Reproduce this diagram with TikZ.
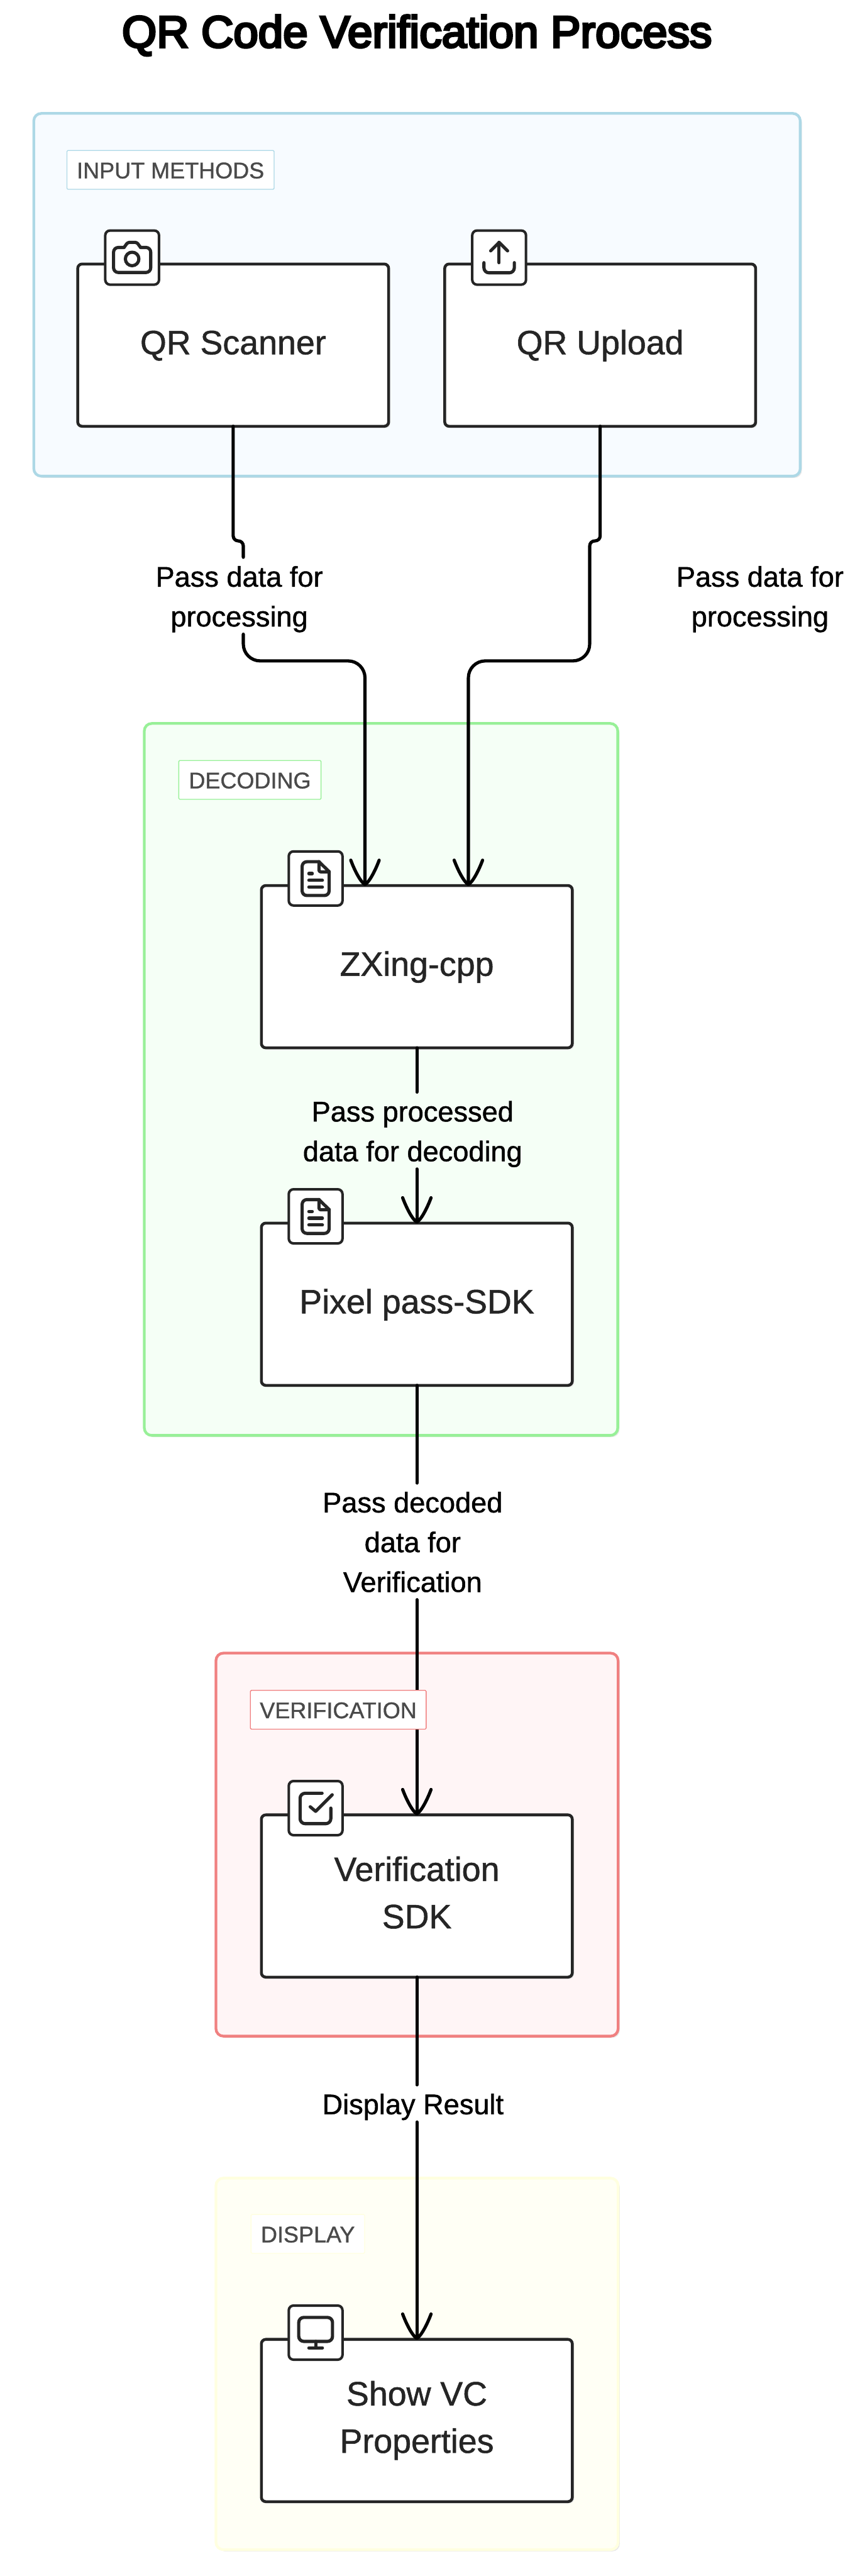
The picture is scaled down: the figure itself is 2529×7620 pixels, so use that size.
\documentclass[tikz,border=0pt]{standalone}
\usepackage{fontspec}
\setmainfont[FakeBold=1]{Liberation Sans}
\newfontfamily\titlefamily[FakeBold=5]{Liberation Sans}
\usetikzlibrary{shadows,arrows.meta}
\definecolor{inkc}{HTML}{252525}
\definecolor{grouptext}{HTML}{4A4A4A}
\definecolor{bluestroke}{HTML}{ADD8E6}
\definecolor{bluefill}{HTML}{F7FBFF}
\definecolor{greenstroke}{HTML}{98F098}
\definecolor{greenfill}{HTML}{F5FFF6}
\definecolor{redstroke}{HTML}{F08080}
\definecolor{redfill}{HTML}{FFF5F6}
\definecolor{yellowstroke}{HTML}{FFFFE0}
\definecolor{yellowfill}{HTML}{FFFFF5}
\definecolor{shadowc}{HTML}{E8E8E8}
\pgfdeclarearrow{
  name=SketchTip,
  setup code={
    \pgfarrowssettipend{3pt}
    \pgfarrowssetlineend{-1pt}
    \pgfarrowssetbackend{-72pt}
    \pgfarrowssetvisualbackend{-2pt}
    \pgfarrowshullpoint{3pt}{0pt}
    \pgfarrowshullpoint{-72pt}{42pt}
    \pgfarrowshullpoint{-72pt}{-42pt}
  },
  drawing code={
    \pgfsetroundcap
    \pgfsetroundjoin
    \pgfsetdash{}{0pt}
    \pgfpathmoveto{\pgfpoint{-72pt}{42pt}}
    \pgfpathcurveto{\pgfpoint{-45pt}{32pt}}{\pgfpoint{-8pt}{14pt}}{\pgfpoint{0pt}{0pt}}
    \pgfpathcurveto{\pgfpoint{-8pt}{-14pt}}{\pgfpoint{-45pt}{-32pt}}{\pgfpoint{-72pt}{-42pt}}
    \pgfusepathqstroke
  }
}
\tikzset{
  softshadow/.style={general shadow={fill=shadowc,shadow xshift=5pt,shadow yshift=-5pt}},
  groupbox/.style={rectangle,rounded corners=22pt,line width=8pt,minimum width=#1,outer sep=0pt,inner sep=0pt,softshadow},
  grouplabel/.style={rectangle,rounded corners=3pt,line width=2.5pt,fill=white,inner sep=0pt,outer sep=0pt,
    font=\fontsize{67}{80}\selectfont,text=grouptext,minimum height=115pt,text height=60pt,text depth=10pt},
  procbox/.style={rectangle,rounded corners=13pt,draw=inkc,line width=8.5pt,fill=white,inner sep=0pt,outer sep=0pt,
    minimum width=920pt,minimum height=480pt,font=\fontsize{100}{140}\selectfont,text=inkc,align=center,
    text height=72pt,text depth=18pt,softshadow},
  proctwo/.style={procbox,text height=209pt,text depth=18pt},
  iconbox/.style={rectangle,rounded corners=14pt,draw=inkc,line width=7.5pt,fill=white,inner sep=0pt,outer sep=0pt,
    minimum width=159pt,minimum height=160pt},
  glyph/.style={draw=inkc,line width=9.5pt,line cap=round,line join=round},
  edgelabel/.style={rectangle,inner sep=0pt,outer sep=0pt,anchor=base,align=center,text=black,
    font=\fontsize{84}{117.6}\selectfont,text height=#1,text depth=23pt},
  edgeline/.style={draw=black,line width=9.5pt,line cap=round,line join=round},
  pics/cameraglyph/.style={code={
    \draw[glyph,rounded corners=14pt] (-24,-30) -- (-55,-30) -- (-55,44) -- (55,44) -- (55,-30) -- (25,-30);
    \draw[glyph,rounded corners=5pt] (-24,-30) -- (-13,-45) -- (14,-45) -- (25,-30);
    \draw[glyph] (0,4) circle[radius=20];
  }},
  pics/uploadglyph/.style={code={
    \draw[glyph] (-25,-20) -- (0,-45) -- (25,-20);
    \draw[glyph] (0,-45) -- (0,15);
    \draw[glyph,rounded corners=15pt] (-45,15) -- (-45,45) -- (45,45) -- (45,15);
  }},
  pics/docglyph/.style={code={
    \draw[glyph,rounded corners=14pt] (10,-49.5) -- (-40,-49.5) -- (-40,50.5) -- (40,50.5) -- (40,-20);
    \draw[glyph] (10,-49.5) -- (40,-20);
    \draw[glyph,rounded corners=5pt] (10,-49.5) -- (10,-19.5) -- (40,-19.5);
    \draw[glyph] (-20,-14.5) -- (-10,-14.5);
    \draw[glyph] (-20,5.5) -- (20,5.5);
    \draw[glyph] (-20,25.5) -- (20,25.5);
  }},
  pics/checkglyph/.style={code={
    \draw[glyph,rounded corners=15pt] (19,-44) -- (-46,-44) -- (-46,46) -- (45,46) -- (45,0);
    \draw[glyph] (-16,-4) -- (0,9.5) -- (49,-39.5);
  }},
  pics/monitorglyph/.style={code={
    \draw[glyph,rounded corners=15pt] (-50,-45) rectangle (50,26);
    \draw[glyph] (0,26) -- (0,45);
    \draw[glyph] (-20,45) -- (20,45);
  }},
}
\begin{document}
\begin{tikzpicture}[x=1pt,y=-1pt]
\useasboundingbox (0,0) rectangle (2529,7620);
\fill[white] (0,0) rectangle (2529,7620);

\node[anchor=base,text=black,inner sep=0pt,font=\titlefamily\fontsize{132}{150}\selectfont] (title) at (1234,140) {QR Code Verification Process};

% groups
\node[groupbox=2268pt,draw=bluestroke,fill=bluefill,minimum height=1073pt] (inputgroup) at (1234,872) {};
\node[groupbox=1401pt,draw=greenstroke,fill=greenfill,minimum height=2106pt] (decodegroup) at (1127.5,3193) {};
\node[groupbox=1190pt,draw=redstroke,fill=redfill,minimum height=1133pt] (verifygroup) at (1234,5456.5) {};
\node[groupbox=1190pt,draw=yellowstroke,fill=yellowfill,minimum height=1099pt] (displaygroup) at (1234,6992.5) {};

% process boxes
\node[procbox] (scanner) at (690,1021) {QR Scanner};
\node[procbox] (upload) at (1776,1021) {QR Upload};
\node[procbox] (zxing) at (1233.5,2859.5) {ZXing-cpp};
\node[procbox] (pixel) at (1233.5,3858) {Pixel pass-SDK};
\node[proctwo] (verifysdk) at (1233.5,5608.5) {Verification\\SDK};
\node[proctwo] (vcprops) at (1233.5,7160) {Show VC\\Properties};

% icons
\node[iconbox] (scannericon) at (391,762) {};
\pic at (scannericon.center) {cameraglyph};
\node[iconbox] (uploadicon) at (1477,762) {};
\pic at (uploadicon.center) {uploadglyph};
\node[iconbox] (zxingicon) at (934,2598.5) {};
\pic at (zxingicon.center) {docglyph};
\node[iconbox] (pixelicon) at (934,3598) {};
\pic at (pixelicon.center) {docglyph};
\node[iconbox] (verifyicon) at (934,5348.5) {};
\pic at (verifyicon.center) {checkglyph};
\node[iconbox] (vcicon) at (934,6900) {};
\pic at (vcicon.center) {monitorglyph};

% edge labels (placed by the baseline of their last line)
\node[edgelabel=204.6pt] (lblscan) at (708,1853) {Pass data for\\processing};
\node[edgelabel=204.6pt] (lblup) at (2249,1853) {Pass data for\\processing};
\node[edgelabel=204.6pt] (lblproc) at (1221,3435) {Pass processed\\data for decoding};
\node[edgelabel=322.2pt] (lbldec) at (1221,4709) {Pass decoded\\data for\\Verification};
\node[edgelabel=87pt] (lblres) at (1222,6254) {Display Result};

% connector waypoints
\coordinate (jogscan) at (720,1600);
\coordinate (railscan) at (720,1955);
\coordinate (jogup) at (1745,1600);
\coordinate (railup) at (1745,1955);
\coordinate (inscan) at ([xshift=-153.5pt]zxing.north);
\coordinate (inup) at ([xshift=152.5pt]zxing.north);

% connectors
\draw[edgeline,rounded corners=15pt] (scanner.south) -- (scanner.south |- jogscan) -- (jogscan) -- (lblscan.north -| jogscan);
\draw[edgeline,rounded corners=50pt,-SketchTip] (lblscan.south -| railscan) -- (railscan) -- (inscan |- railscan) -- (inscan);
\draw[edgeline,-SketchTip] (upload.south) [rounded corners=15pt] -- (upload.south |- jogup) -- (jogup) [rounded corners=50pt] -- (railup) -- (inup |- railup) -- (inup);
\draw[edgeline] (zxing.south) -- (lblproc.north -| zxing.south);
\draw[edgeline,-SketchTip] (lblproc.south -| pixel.north) -- (pixel.north);
\draw[edgeline] (pixel.south) -- (lbldec.north -| pixel.south);
\draw[edgeline,-SketchTip] (lbldec.south -| verifysdk.north) -- (verifysdk.north);
\draw[edgeline] (verifysdk.south) -- (lblres.north -| verifysdk.south);
\draw[edgeline,-SketchTip] (lblres.south -| vcprops.north) -- (vcprops.north);

% group labels
\node[grouplabel,draw=bluestroke,minimum width=613pt] (inputlabel) at (504.5,502.5) {INPUT METHODS};
\node[grouplabel,draw=greenstroke,minimum width=421pt] (decodelabel) at (739.5,2307) {DECODING};
\node[grouplabel,draw=redstroke,minimum width=520pt] (verifylabel) at (1001,5057.5) {VERIFICATION};
\node[grouplabel,draw=yellowstroke,minimum width=336pt] (displaylabel) at (911,6608) {DISPLAY};
\end{tikzpicture}
\end{document}
